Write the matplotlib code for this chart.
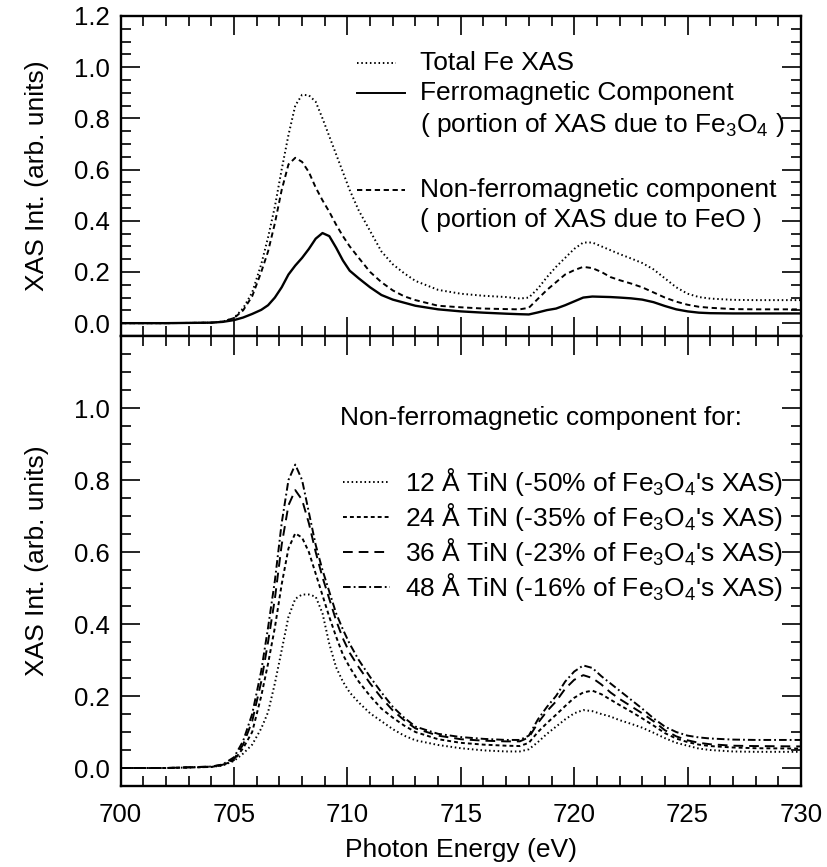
import matplotlib
matplotlib.use("Agg")
import matplotlib.pyplot as plt
from matplotlib.ticker import MultipleLocator, FixedLocator
import numpy as np

plt.rcParams["font.family"] = ["Liberation Sans", "DejaVu Sans"]
plt.rcParams["mathtext.fontset"] = "custom"
plt.rcParams["mathtext.rm"] = "Liberation Sans"
plt.rcParams["mathtext.it"] = "Liberation Sans:italic"
plt.rcParams["lines.scale_dashes"] = False

# photon energy grid (eV), shared by all curves
energy = [700, 702, 704, 704.5, 705, 705.4, 705.8, 706.2, 706.5, 706.8, 707.1,
          707.4, 707.7, 708.0, 708.3, 708.6, 708.9, 709.2, 709.5, 709.8, 710.1,
          710.5, 711.0, 711.5, 712.0, 712.5, 713.0, 714.0, 715.0, 716.0, 717.0,
          717.6, 718.0, 718.4, 718.8, 719.2, 719.6, 720.0, 720.4, 720.8, 721.2,
          721.6, 722.0, 722.5, 723.0, 723.5, 724.0, 724.5, 725.0, 725.5, 726.0,
          727.0, 728.0, 730.0]

# upper panel: total Fe XAS and its two components
total_xas = [0.0, 0.0, 0.002, 0.006, 0.02, 0.058, 0.12, 0.23, 0.335, 0.455, 0.6,
             0.735, 0.85, 0.892, 0.89, 0.865, 0.8, 0.73, 0.66, 0.59, 0.52,
             0.44, 0.36, 0.28, 0.23, 0.195, 0.165, 0.13, 0.115, 0.107, 0.102,
             0.096, 0.1, 0.135, 0.18, 0.22, 0.255, 0.29, 0.315, 0.315, 0.3,
             0.285, 0.27, 0.253, 0.235, 0.21, 0.175, 0.14, 0.115, 0.102, 0.096,
             0.091, 0.09, 0.09]
ferro = [0.0, 0.0, 0.002, 0.005, 0.012, 0.022, 0.036, 0.052, 0.07, 0.1, 0.14,
         0.19, 0.225, 0.255, 0.29, 0.33, 0.352, 0.34, 0.295, 0.245, 0.205,
         0.175, 0.14, 0.11, 0.092, 0.08, 0.068, 0.054, 0.046, 0.041, 0.037,
         0.035, 0.034, 0.042, 0.051, 0.057, 0.07, 0.085, 0.1, 0.104, 0.103,
         0.102, 0.1, 0.097, 0.092, 0.082, 0.067, 0.054, 0.046, 0.041, 0.039,
         0.038, 0.038, 0.038]
non_ferro = [0.0, 0.0, 0.002, 0.006, 0.02, 0.05, 0.105, 0.2, 0.28, 0.39, 0.52,
             0.62, 0.646, 0.63, 0.59, 0.53, 0.48, 0.435, 0.385, 0.34, 0.3,
             0.255, 0.2, 0.16, 0.128, 0.105, 0.09, 0.068, 0.062, 0.057, 0.055,
             0.054, 0.06, 0.095, 0.13, 0.16, 0.19, 0.207, 0.22, 0.215, 0.2,
             0.18, 0.168, 0.155, 0.14, 0.12, 0.1, 0.084, 0.072, 0.064, 0.06,
             0.055, 0.054, 0.054]

# lower panel: non-ferromagnetic component for each TiN thickness
tin_12 = [0.0, 0.0, 0.003, 0.007, 0.02, 0.04, 0.065, 0.11, 0.155, 0.235, 0.327,
          0.42, 0.47, 0.482, 0.482, 0.476, 0.43, 0.345, 0.28, 0.24, 0.21,
          0.182, 0.152, 0.13, 0.108, 0.09, 0.077, 0.064, 0.055, 0.049, 0.046,
          0.046, 0.052, 0.072, 0.095, 0.115, 0.135, 0.152, 0.161, 0.158, 0.15,
          0.143, 0.133, 0.123, 0.112, 0.098, 0.083, 0.07, 0.062, 0.054, 0.05,
          0.046, 0.045, 0.045]
tin_24 = [0.0, 0.0, 0.003, 0.008, 0.022, 0.055, 0.1, 0.2, 0.29, 0.39, 0.51,
          0.61, 0.652, 0.64, 0.6, 0.54, 0.48, 0.42, 0.365, 0.315, 0.28,
          0.24, 0.2, 0.165, 0.14, 0.118, 0.1, 0.08, 0.07, 0.065, 0.062,
          0.061, 0.07, 0.1, 0.125, 0.148, 0.172, 0.195, 0.21, 0.215, 0.205,
          0.19, 0.175, 0.157, 0.138, 0.118, 0.097, 0.082, 0.072, 0.065, 0.061,
          0.057, 0.055, 0.054]
tin_36 = [0.0, 0.0, 0.004, 0.009, 0.025, 0.065, 0.13, 0.24, 0.35, 0.47, 0.62,
          0.73, 0.772, 0.745, 0.68, 0.6, 0.53, 0.47, 0.41, 0.36, 0.32,
          0.28, 0.235, 0.195, 0.16, 0.133, 0.11, 0.09, 0.08, 0.076, 0.074,
          0.074, 0.085, 0.125, 0.158, 0.185, 0.22, 0.245, 0.258, 0.25, 0.232,
          0.21, 0.192, 0.172, 0.152, 0.13, 0.105, 0.088, 0.077, 0.07, 0.066,
          0.062, 0.061, 0.06]
tin_48 = [0.0, 0.0, 0.004, 0.01, 0.03, 0.075, 0.15, 0.27, 0.39, 0.52, 0.68,
          0.8, 0.843, 0.8, 0.71, 0.62, 0.55, 0.49, 0.43, 0.385, 0.345,
          0.3, 0.253, 0.21, 0.17, 0.14, 0.115, 0.095, 0.086, 0.081, 0.078,
          0.078, 0.09, 0.135, 0.17, 0.2, 0.24, 0.268, 0.285, 0.278, 0.255,
          0.235, 0.215, 0.19, 0.165, 0.138, 0.115, 0.1, 0.09, 0.085, 0.082,
          0.079, 0.078, 0.078]

tin_labels = [
    r"12 Å TiN (-50% of Fe$_\mathregular{3}$O$_\mathregular{4}$'s XAS)",
    r"24 Å TiN (-35% of Fe$_\mathregular{3}$O$_\mathregular{4}$'s XAS)",
    r"36 Å TiN (-23% of Fe$_\mathregular{3}$O$_\mathregular{4}$'s XAS)",
    r"48 Å TiN (-16% of Fe$_\mathregular{3}$O$_\mathregular{4}$'s XAS)",
]

FS = 19
TICK_FS = 18.5
LW = 1.4

dotted = dict(linestyle=(0, (1.1, 2.0)))
solid = dict(linestyle="-")
dashed = dict(linestyle=(0, (3.8, 2.6)))
short_dash = dict(linestyle=(0, (2.8, 2.2)))
long_dash = dict(linestyle=(0, (7.0, 4.3)))
dash_dot = dict(linestyle=(0, (5.5, 2.2, 1.3, 2.2)))


def style_axes(ax):
    for sp in ax.spines.values():
        sp.set_linewidth(1.7)
    ax.set_xlim(700, 730)
    ax.set_ylim(-0.05, 1.2)
    ax.xaxis.set_major_locator(MultipleLocator(5))
    ax.xaxis.set_minor_locator(MultipleLocator(1))
    ax.yaxis.set_minor_locator(MultipleLocator(0.05))
    ax.tick_params(which="both", direction="in", top=True, right=True,
                   labelsize=TICK_FS, width=1.2)
    ax.tick_params(which="major", length=13.5)
    ax.tick_params(which="minor", length=7)
    ax.tick_params(axis="x", pad=12)
    ax.tick_params(axis="y", pad=8)
    ax.set_ylabel("XAS Int. (arb. units)", fontsize=FS, labelpad=18)


def key(ax, x0, x1, y, style, text, tx):
    if style is not None:
        ax.plot([x0, x1], [y, y], transform=ax.transAxes, color="black",
                lw=LW, clip_on=False, **style)
    ax.text(tx, y, text, transform=ax.transAxes, va="center", ha="left",
            fontsize=FS)


fig = plt.figure(figsize=(8.27, 8.67), dpi=100)
ax1 = fig.add_axes([0.1459, 0.6125, 0.8226, 0.3691])
ax2 = fig.add_axes([0.1459, 0.0934, 0.8226, 0.5190])

# upper panel
ax1.plot(energy, total_xas, color="black", lw=LW, **dotted)
ax1.plot(energy, ferro, color="black", lw=LW + 0.3, **solid)
ax1.plot(energy, non_ferro, color="black", lw=LW, **dashed)
style_axes(ax1)
ax1.yaxis.set_major_locator(FixedLocator([0.0, 0.2, 0.4, 0.6, 0.8, 1.0, 1.2]))
ax1.yaxis.set_major_formatter(plt.FuncFormatter(lambda v, p: f"{v:.1f}"))
ax1.tick_params(axis="x", labelbottom=False)

key(ax1, 0.347, 0.405, 0.853, dotted, "Total Fe XAS", 0.44)
key(ax1, 0.347, 0.418, 0.759, solid, "Ferromagnetic Component", 0.44)
key(ax1, 0, 0, 0.659, None,
    r"( portion of XAS due to Fe$_\mathregular{3}$O$_\mathregular{4}$ )", 0.44)
key(ax1, 0.347, 0.418, 0.456, dashed, "Non-ferromagnetic component", 0.44)
key(ax1, 0, 0, 0.3625, None, "( portion of XAS due to FeO )", 0.44)

# lower panel
tin_series = [tin_12, tin_24, tin_36, tin_48]
tin_styles = [dotted, short_dash, long_dash, dash_dot]
for vals, st in zip(tin_series, tin_styles):
    ax2.plot(energy, vals, color="black", lw=LW, **st)
style_axes(ax2)
ax2.yaxis.set_major_locator(FixedLocator([0.0, 0.2, 0.4, 0.6, 0.8, 1.0]))
ax2.yaxis.set_major_formatter(plt.FuncFormatter(lambda v, p: f"{v:.1f}"))
ax2.set_xlabel("Photon Energy (eV)", fontsize=FS, labelpad=8)

ax2.text(0.322, 0.818, "Non-ferromagnetic component for:", transform=ax2.transAxes,
         va="center", ha="left", fontsize=FS)
for i, (lab, st) in enumerate(zip(tin_labels, tin_styles)):
    key(ax2, 0.327, 0.396, 0.676 - i * 0.078, st, lab, 0.418)

fig.savefig("out.png", dpi=100)
